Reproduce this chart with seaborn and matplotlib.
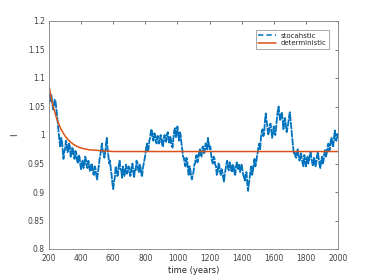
import numpy as np
import pandas as pd
import matplotlib
matplotlib.use("Agg")
import matplotlib.pyplot as plt
import seaborn as sns

# stochastic series, every 5 years from 200 to 2000
stoch_years = list(range(200, 2001, 5))
stoch_vals = [
    1.072, 1.058, 1.062, 1.070, 1.058, 1.045, 1.050, 1.062, 1.060, 1.048, 1.035, 1.020, 1.005, 0.990, 0.980, 0.995, 0.992, 0.975, 0.958, 0.970,
    0.975, 0.990, 0.985, 0.970, 0.972, 0.985, 0.980, 0.962, 0.966, 0.978, 0.975, 0.960, 0.958, 0.972, 0.968, 0.955, 0.950, 0.965, 0.962, 0.948,
    0.940, 0.952, 0.955, 0.942, 0.948, 0.962, 0.958, 0.945, 0.942, 0.955, 0.950, 0.936, 0.938, 0.950, 0.945, 0.932, 0.930, 0.945, 0.940, 0.928,
    0.922, 0.935, 0.945, 0.958, 0.965, 0.978, 0.985, 0.970, 0.972, 0.960, 0.968, 0.985, 0.995, 0.975, 0.962, 0.950, 0.955, 0.940, 0.930, 0.915,
    0.905, 0.918, 0.925, 0.945, 0.940, 0.928, 0.930, 0.948, 0.955, 0.940, 0.938, 0.925, 0.945, 0.935, 0.928, 0.940, 0.948, 0.932, 0.935, 0.945,
    0.942, 0.928, 0.930, 0.945, 0.950, 0.935, 0.925, 0.940, 0.938, 0.955, 0.952, 0.940, 0.935, 0.948, 0.945, 0.930, 0.928, 0.942, 0.950, 0.958,
    0.965, 0.978, 0.985, 0.972, 0.975, 0.990, 0.995, 1.008, 1.010, 0.995, 0.990, 1.003, 1.002, 0.990, 0.985, 0.998, 0.998, 0.985, 0.988, 1.000,
    0.995, 0.982, 0.980, 0.995, 1.000, 0.990, 0.988, 1.002, 1.005, 0.992, 0.985, 0.998, 0.992, 0.980, 0.978, 0.995, 1.008, 1.012, 0.995, 1.005,
    1.015, 1.000, 0.990, 1.005, 1.000, 0.985, 0.975, 0.962, 0.960, 0.950, 0.945, 0.960, 0.958, 0.940, 0.930, 0.945, 0.940, 0.928, 0.922, 0.930,
    0.935, 0.948, 0.950, 0.962, 0.965, 0.952, 0.958, 0.970, 0.975, 0.962, 0.962, 0.978, 0.980, 0.968, 0.970, 0.985, 0.985, 0.975, 0.995, 0.985,
    0.975, 0.980, 0.965, 0.955, 0.950, 0.962, 0.960, 0.948, 0.945, 0.930, 0.935, 0.950, 0.948, 0.935, 0.930, 0.940, 0.935, 0.925, 0.918, 0.932,
    0.940, 0.950, 0.955, 0.942, 0.938, 0.952, 0.950, 0.938, 0.935, 0.948, 0.945, 0.932, 0.930, 0.945, 0.952, 0.942, 0.940, 0.948, 0.935, 0.945,
    0.948, 0.938, 0.930, 0.925, 0.920, 0.932, 0.935, 0.915, 0.902, 0.915, 0.925, 0.938, 0.945, 0.930, 0.935, 0.950, 0.958, 0.945, 0.950, 0.962,
    0.970, 0.980, 0.985, 0.975, 0.995, 1.005, 1.010, 0.998, 1.002, 1.025, 1.038, 1.025, 1.015, 1.000, 1.005, 1.018, 1.020, 1.008, 0.995, 1.005,
    1.015, 1.002, 1.000, 1.015, 1.030, 1.042, 1.050, 1.035, 1.025, 1.035, 1.040, 1.028, 1.010, 1.022, 1.030, 1.018, 1.005, 1.012, 1.020, 1.032,
    1.040, 1.025, 1.010, 0.995, 0.980, 0.968, 0.970, 0.962, 0.960, 0.972, 0.975, 0.962, 0.955, 0.962, 0.968, 0.958, 0.950, 0.945, 0.965, 0.958,
    0.945, 0.955, 0.962, 0.950, 0.955, 0.968, 0.970, 0.958, 0.950, 0.945, 0.960, 0.955, 0.945, 0.952, 0.965, 0.970, 0.958, 0.948, 0.942, 0.955,
    0.962, 0.950, 0.955, 0.968, 0.975, 0.962, 0.968, 0.980, 0.985, 0.972, 0.975, 0.990, 0.995, 0.982, 0.980, 0.995, 1.008, 0.992, 0.990, 1.002,
    0.995,
]

det_years = [200, 225, 250, 275, 300, 325, 350, 375, 400, 450, 500, 600, 2000]
det_vals = [1.085, 1.051, 1.027, 1.010, 0.998, 0.990, 0.984, 0.980, 0.977, 0.974, 0.973, 0.971, 0.971]

x_ticks = list(range(200, 2001, 200))
y_ticks = [0.8, 0.85, 0.9, 0.95, 1.0, 1.05, 1.1, 1.15, 1.2]
y_tick_labels = ["0.8", "0.85", "0.9", "0.95", "1", "1.05", "1.1", "1.15", "1.2"]

sns.set_style("white")
plt.rcParams['font.family'] = ['DejaVu Sans']

fig = plt.figure(figsize=(3.74, 2.80), dpi=100)
ax = fig.add_axes([49/374, 31/280, 289/374, 228/280])

df_s = pd.DataFrame({"t": stoch_years, "v": stoch_vals})
df_d = pd.DataFrame({"t": det_years, "v": det_vals})

sns.lineplot(data=df_s, x="t", y="v", ax=ax, color="#0072BD", linewidth=1.3,
             linestyle=(0, (4, 0.5)), label="stocahstic", estimator=None)
sns.lineplot(data=df_d, x="t", y="v", ax=ax, color="#D95319", linewidth=1.1,
             label="deterministic", estimator=None)

ax.set_xlim(200, 2000)
ax.set_ylim(0.8, 1.2)
ax.set_xticks(x_ticks)
ax.set_xticklabels([str(v) for v in x_ticks])
ax.set_yticks(y_ticks)
ax.set_yticklabels(y_tick_labels)
ax.tick_params(direction="in", length=2.5, width=0.5, labelsize=5.5,
               colors="#404040", top=True, right=True)
ax.tick_params(axis="x", pad=3.5)
ax.tick_params(axis="y", pad=3)
for s in ax.spines.values():
    s.set_color("#808080")
    s.set_linewidth(0.6)
ax.set_xlabel("time (years)", fontsize=6, color="#262626", labelpad=2)
ax.set_ylabel("I", fontsize=6, color="#262626", labelpad=6, rotation=90)

leg = ax.legend(loc="upper right", fontsize=5, frameon=True, fancybox=False,
                handlelength=2.6, borderpad=0.35, labelspacing=0.25,
                handletextpad=0.6, bbox_to_anchor=(0.98, 0.975))
leg.get_frame().set_edgecolor("#808080")
leg.get_frame().set_linewidth(0.6)
leg.get_lines()[0].set_linestyle((0, (3.5, 2)))
leg.get_lines()[0].set_linewidth(1.1)

fig.savefig("out.png", dpi=100)
